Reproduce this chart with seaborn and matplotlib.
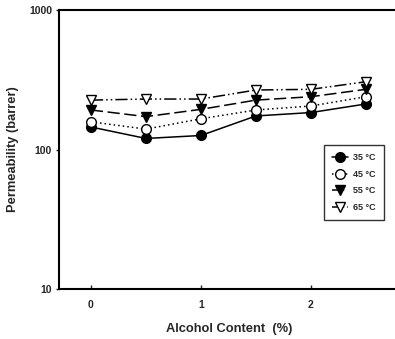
import numpy as np
import pandas as pd
import matplotlib
matplotlib.use('Agg')
import matplotlib.pyplot as plt
import seaborn as sns

alcohol = [0, 0.5, 1, 1.5, 2, 2.5]
perm_35 = [145, 120, 126, 174, 184, 212]
perm_45 = [158, 140, 166, 192, 205, 239]
perm_55 = [192, 172, 194, 226, 239, 270]
perm_65 = [226, 230, 230, 267, 270, 306]
labels = ['35 \u00b0C', '45 \u00b0C', '55 \u00b0C', '65 \u00b0C']

sns.set_style('ticks')
plt.rcParams['font.family'] = ['Liberation Sans', 'DejaVu Sans']
plt.rcParams['font.weight'] = 'bold'

df = pd.DataFrame({
    'alcohol': alcohol * 4,
    'perm': perm_35 + perm_45 + perm_55 + perm_65,
    'temp': [l for l in labels for _ in alcohol],
})

fig = plt.figure(figsize=(3.95, 3.39), dpi=100)
ax = fig.add_axes([59 / 395, 1 - 289 / 339, 1.0 - 59 / 395 + 0.01, (289 - 10) / 339])

styles = {
    labels[0]: dict(ls='-', marker='o', mfc='black'),
    labels[1]: dict(ls=(0, (1, 2)), marker='o', mfc='white'),
    labels[2]: dict(ls=(0, (8, 3)), marker='v', mfc='black'),
    labels[3]: dict(ls=(0, (8, 2, 1, 2, 1, 2)), marker='v', mfc='white'),
}
for lab in labels:
    sub = df[df['temp'] == lab]
    st = styles[lab]
    sns.lineplot(data=sub, x='alcohol', y='perm', ax=ax, color='black', lw=1.1,
                 linestyle=st['ls'], marker=st['marker'], markersize=7,
                 markerfacecolor=st['mfc'], markeredgecolor='black', markeredgewidth=1,
                 label=lab)

ax.set_yscale('log')
ax.set_ylim(10, 1000)
ax.set_xlim(-0.29, 2.8)
ax.set_xticks([0, 1, 2])
ax.set_yticks([10, 100, 1000])
ax.set_yticklabels(['10', '100', '1000'])
ax.tick_params(axis='x', which='major', direction='in', length=3, width=1, labelsize=7.5, pad=8)
ax.tick_params(axis='y', which='major', direction='out', length=2, width=1, labelsize=7.5, pad=3)
ax.tick_params(axis='y', which='minor', direction='out', length=1, width=0.5)
for s in ax.spines.values():
    s.set_linewidth(1.5)
    s.set_color('black')

ax.set_xlabel('Alcohol Content  (%)', fontsize=9.3, fontweight='bold', labelpad=9)
ax.set_ylabel('Permeability (barrer)', fontsize=9.3, fontweight='bold', labelpad=7)

leg = ax.legend(loc='upper left', bbox_to_anchor=((321 - 59) / 336, 1 - (145 - 10) / 279),
                fontsize=6.5, frameon=True, fancybox=False, edgecolor='black',
                handlelength=1.8, handletextpad=0.5, borderpad=0.9, labelspacing=0.85,
                borderaxespad=0)
leg.get_frame().set_linewidth(1)

fig.savefig('out.png', dpi=100)
